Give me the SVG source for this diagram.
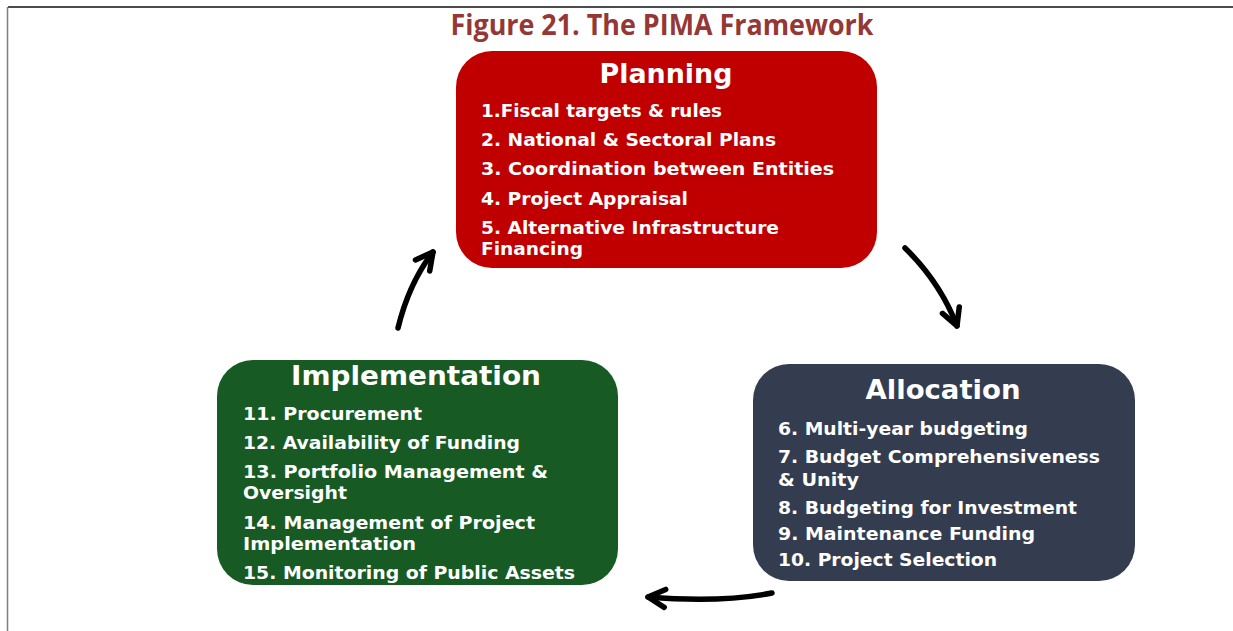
<svg xmlns="http://www.w3.org/2000/svg" width="1233" height="631" viewBox="0 0 1233 631">
<style>
.title{font-family:"Open Sans","Liberation Sans",sans-serif;font-weight:bold;font-size:28px;fill:#953735}
.hdr{font-family:"DejaVu Sans","Verdana",sans-serif;font-weight:bold;font-size:26px;fill:#ffffff}
.itm{font-family:"DejaVu Sans","Verdana",sans-serif;font-weight:bold;font-size:18px;fill:#ffffff}
.arr{fill:none;stroke:#000;stroke-width:5.5;stroke-linecap:round}
</style>
<defs>
<marker id="head" markerUnits="userSpaceOnUse" markerWidth="40" markerHeight="40" refX="0" refY="0" viewBox="-20 -20 40 40" orient="auto">
<path d="M-17,-9 L0,0 L-17,9" fill="none" stroke="#000" stroke-width="5.5" stroke-linecap="round" stroke-linejoin="round"/>
</marker>
</defs>
<rect width="1233" height="631" fill="#fff"/>
<line x1="8" y1="7" x2="1233" y2="7" stroke="#111" stroke-width="1.5"/>
<line x1="7.5" y1="7" x2="7.5" y2="631" stroke="#808080" stroke-width="1.5"/>
<text class="title" x="662" y="35" text-anchor="middle" textLength="423" lengthAdjust="spacingAndGlyphs">Figure 21. The PIMA Framework</text>

<g id="planning">
<rect x="456" y="51" width="421" height="217" rx="36" fill="#c00000"/>
<text class="hdr" x="666" y="83" text-anchor="middle" textLength="133" lengthAdjust="spacingAndGlyphs">Planning</text>
<text class="itm" x="481" y="117" textLength="241" lengthAdjust="spacingAndGlyphs">1.Fiscal targets &amp; rules</text>
<text class="itm" x="481" y="146" textLength="295" lengthAdjust="spacingAndGlyphs">2. National &amp; Sectoral Plans</text>
<text class="itm" x="481" y="175" textLength="353" lengthAdjust="spacingAndGlyphs">3. Coordination  between Entities</text>
<text class="itm" x="481" y="205" textLength="207" lengthAdjust="spacingAndGlyphs">4. Project Appraisal</text>
<text class="itm" x="481" y="234" textLength="298" lengthAdjust="spacingAndGlyphs">5. Alternative Infrastructure</text>
<text class="itm" x="481" y="255" textLength="102" lengthAdjust="spacingAndGlyphs">Financing</text>
</g>

<g id="allocation">
<rect x="753" y="364" width="382" height="217" rx="36" fill="#333d4f"/>
<text class="hdr" x="943" y="399" text-anchor="middle" textLength="155" lengthAdjust="spacingAndGlyphs">Allocation</text>
<text class="itm" x="778" y="435" textLength="250" lengthAdjust="spacingAndGlyphs">6. Multi-year budgeting</text>
<text class="itm" x="778" y="463" textLength="322" lengthAdjust="spacingAndGlyphs">7. Budget Comprehensiveness</text>
<text class="itm" x="778" y="486" textLength="81" lengthAdjust="spacingAndGlyphs">&amp; Unity</text>
<text class="itm" x="778" y="514" textLength="299" lengthAdjust="spacingAndGlyphs">8. Budgeting for Investment</text>
<text class="itm" x="778" y="540" textLength="257" lengthAdjust="spacingAndGlyphs">9. Maintenance Funding</text>
<text class="itm" x="778" y="566" textLength="219" lengthAdjust="spacingAndGlyphs">10. Project Selection</text>
</g>

<g id="implementation">
<rect x="217" y="360" width="401" height="225" rx="36" fill="#175a23"/>
<text class="hdr" x="416" y="385" text-anchor="middle" textLength="250" lengthAdjust="spacingAndGlyphs">Implementation</text>
<text class="itm" x="243" y="420" textLength="179" lengthAdjust="spacingAndGlyphs">11. Procurement</text>
<text class="itm" x="243" y="449" textLength="277" lengthAdjust="spacingAndGlyphs">12. Availability of Funding</text>
<text class="itm" x="243" y="478" textLength="305" lengthAdjust="spacingAndGlyphs">13. Portfolio Management &amp;</text>
<text class="itm" x="243" y="499" textLength="104" lengthAdjust="spacingAndGlyphs">Oversight</text>
<text class="itm" x="243" y="529" textLength="292" lengthAdjust="spacingAndGlyphs">14. Management of Project</text>
<text class="itm" x="243" y="550" textLength="173" lengthAdjust="spacingAndGlyphs">Implementation</text>
<text class="itm" x="243" y="579" textLength="332" lengthAdjust="spacingAndGlyphs">15. Monitoring of Public Assets</text>
</g>

<g id="connectors">
<path class="arr" d="M398,328 Q409,283 433,252" marker-end="url(#head)"/>
<path class="arr" d="M905,248 Q940,282 957,326" marker-end="url(#head)"/>
<path class="arr" d="M772,593 Q720,603 648,597" marker-end="url(#head)"/>
</g>
</svg>
